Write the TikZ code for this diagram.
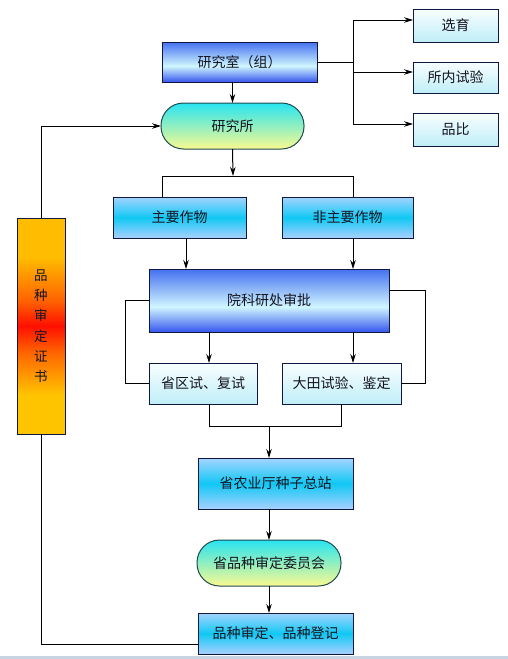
\documentclass[tikz,border=0pt]{standalone}
\usepackage{fontspec}
\newfontfamily\cjk{Noto Sans CJK SC}
\usetikzlibrary{arrows.meta,calc}
\definecolor{edge}{HTML}{101840}
\definecolor{txt}{HTML}{141420}
\definecolor{blueA}{HTML}{3656EE}
\definecolor{blueB}{HTML}{4470F0}
\definecolor{lightC}{HTML}{D0F6FF}
\definecolor{barTop}{HTML}{FFBC00}
\definecolor{barOr}{HTML}{FF6400}
\definecolor{barMid}{HTML}{FF1000}
\definecolor{barBot}{HTML}{FFC400}
\definecolor{cyan1}{HTML}{A4D4FF}
\definecolor{cyan2}{HTML}{10C8F4}
\definecolor{cyan3}{HTML}{A8D0FF}
\definecolor{pale1}{HTML}{F8FEFF}
\definecolor{pale2}{HTML}{C0EEF8}
\definecolor{pill1}{HTML}{28E4F0}
\definecolor{pill2}{HTML}{FAFA90}
\definecolor{pillEdge}{HTML}{1E4A50}
\definecolor{strip}{HTML}{C8D4E2}
\pgfdeclareverticalshading{bluebar}{100bp}{color(0bp)=(blueA); color(25bp)=(blueA); color(45bp)=(lightC); color(75bp)=(blueB); color(100bp)=(blueB)}
\pgfdeclareverticalshading{firebar}{100bp}{color(0bp)=(barBot); color(25bp)=(barBot); color(34bp)=(barBot); color(44bp)=(barOr); color(50bp)=(barMid); color(56bp)=(barOr); color(66bp)=(barTop); color(75bp)=(barTop); color(100bp)=(barTop)}
\tikzset{
  base/.style={draw=edge, line width=1pt, inner sep=0pt, outer sep=0pt, text=txt,
    font=\cjk\fontsize{14}{16}\selectfont},
  bluebox/.style={base, shading=bluebar},
  cyanbox/.style={base, top color=cyan1, bottom color=cyan3, middle color=cyan2},
  palebox/.style={base, top color=pale1, bottom color=pale2},
  pill/.style={base, rounded corners=22.5pt, draw=pillEdge, top color=pill1, bottom color=pill2},
  firebox/.style={base, shading=firebar, font=\cjk\fontsize{13.5}{20.3}\selectfont, align=center},
  line/.style={draw=black, line width=1pt},
  arr/.style={line, -{Stealth[length=9pt,width=5.5pt]}},
}
\begin{document}
\begin{tikzpicture}[x=1pt,y=-1pt]
\useasboundingbox (0,0) rectangle (508,659);
\fill[white] (0,0) rectangle (508,659);
\fill[strip] (0,656) rectangle (508,659);
% nodes
\node[bluebox, minimum width=155pt, minimum height=40pt] (shi) at (239.5,62) {研究室（组）};
\node[pill, minimum width=143pt, minimum height=46pt] (suo) at (232.5,126) {研究所};
\node[palebox, minimum width=85pt, minimum height=33pt] (xy) at (455.5,25.5) {选育};
\node[palebox, minimum width=85pt, minimum height=31pt] (snsy) at (455.5,77.5) {所内试验};
\node[palebox, minimum width=85pt, minimum height=33pt] (pb) at (455.5,129.5) {品比};
\node[cyanbox, minimum width=133pt, minimum height=41pt] (zy) at (179.5,217.5) {主要作物};
\node[cyanbox, minimum width=131pt, minimum height=41pt] (fzy) at (347.5,217.5) {非主要作物};
\node[bluebox, minimum width=240pt, minimum height=63pt] (ykc) at (269,300.5) {院科研处审批};
\node[palebox, minimum width=108pt, minimum height=41pt] (sqs) at (203,383.5) {省区试、复试};
\node[palebox, minimum width=119pt, minimum height=41pt] (dt) at (341.5,383.5) {大田试验、鉴定};
\node[cyanbox, minimum width=155pt, minimum height=51pt] (nyt) at (275.5,483.5) {省农业厅种子总站};
\node[pill, minimum width=144pt, minimum height=46pt] (wyh) at (269,563) {省品种审定委员会};
\node[cyanbox, minimum width=155pt, minimum height=41pt] (pzsd) at (275.5,633.5) {品种审定、品种登记};
\node[firebox, minimum width=48pt, minimum height=216pt] (bar) at (41,326) {品\\种\\审\\定\\证\\书};
% coordinates
\coordinate (br) at (353,62);
\coordinate (sp) at (233,176);
\coordinate (spl) at (162,176);
\coordinate (spr) at (353,176);
\coordinate (mg) at (269,426);
\coordinate (xyin) at ([yshift=5.5pt]xy.west);
\coordinate (snin) at ([yshift=5.5pt]snsy.west);
\coordinate (pbin) at ([yshift=5.5pt]pb.west);
\coordinate (zyout) at ([xshift=6.5pt]zy.south);
\coordinate (fzyout) at ([xshift=5.5pt]fzy.south);
\coordinate (sqsin) at ([xshift=6pt]sqs.north);
\coordinate (sqsout) at ([xshift=6pt]sqs.south);
\coordinate (dtin) at ([xshift=11.5pt]dt.north);
\coordinate (ykcr) at ([yshift=10.5pt]ykc.east);
\coordinate (pzout) at ([yshift=-10.5pt]pzsd.west);
% connectors
\draw[arr] (shi.south -| suo.north) -- (suo.north);
\draw[line] (shi.east) -- (br);
\draw[line] (br |- xyin) -- (br |- pbin);
\draw[arr] (br |- xyin) -- (xyin);
\draw[arr] (br |- snin) -- (snin);
\draw[arr] (br |- pbin) -- (pbin);
\draw[arr] (suo.south) -- (sp);
\draw[line] (spl |- zy.north) -- (spl) -- (spr) -- (spr |- fzy.north);
\draw[arr] (zyout) -- (zyout |- ykc.north);
\draw[arr] (fzyout) -- (fzyout |- ykc.north);
\draw[arr] (sqsin |- ykc.south) -- (sqsin);
\draw[arr] (dtin |- ykc.south) -- (dtin);
\draw[line] (ykc.west) -- ++(-24,0) |- (sqs.west);
\draw[line] (ykcr) -- ++(36,0) |- (dt.east);
\draw[line] (sqsout) -- (sqsout |- mg) -- (dt.south |- mg) -- (dt.south);
\draw[arr] (mg) -- (mg |- nyt.north);
\draw[arr] (wyh.north |- nyt.south) -- (wyh.north);
\draw[arr] (wyh.south) -- (wyh.south |- pzsd.north);
\draw[line] (pzout) -| (bar.south);
\draw[arr] (bar.north) |- (suo.west);
\end{tikzpicture}
\end{document}
